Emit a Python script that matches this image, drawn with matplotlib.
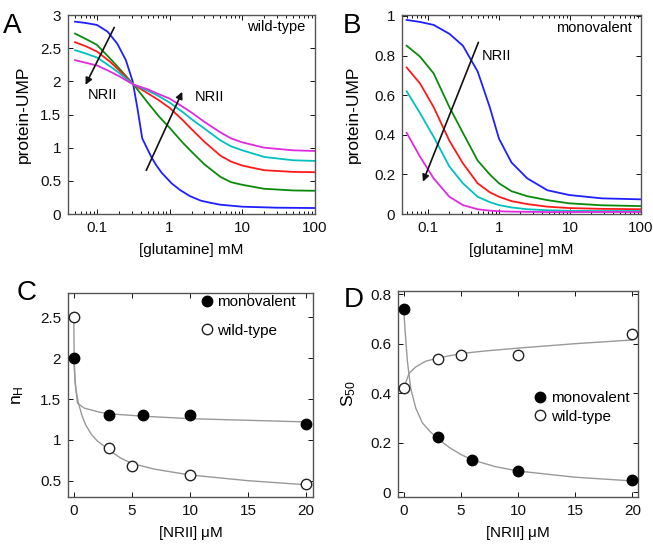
import matplotlib
matplotlib.use('Agg')

import matplotlib.pyplot as plt
import numpy as np

plt.rcParams['font.family'] = ['Liberation Sans', 'DejaVu Sans']
plt.rcParams['mathtext.fontset'] = 'custom'
plt.rcParams['mathtext.rm'] = 'Liberation Sans'
plt.rcParams['mathtext.it'] = 'Liberation Sans'

# ---- panel A: wild-type, protein-UMP vs glutamine ----
glu_a = [0.05, 0.07, 0.1, 0.15, 0.2, 0.32, 0.5, 0.7, 1, 1.5, 2, 3, 5, 7, 10, 20, 50, 100]
wt_green = [2.72, 2.64, 2.55, 2.35, 2.2, 1.95, 1.68, 1.48, 1.3, 1.08, 0.94, 0.75, 0.56, 0.48, 0.44, 0.38, 0.355, 0.35]
wt_red = [2.59, 2.53, 2.45, 2.3, 2.17, 1.95, 1.82, 1.72, 1.6, 1.42, 1.28, 1.09, 0.88, 0.79, 0.73, 0.66, 0.635, 0.63]
wt_cyan = [2.47, 2.42, 2.36, 2.23, 2.13, 1.95, 1.86, 1.78, 1.68, 1.54, 1.43, 1.29, 1.11, 1.02, 0.96, 0.86, 0.81, 0.80]
wt_magenta = [2.32, 2.28, 2.24, 2.15, 2.08, 1.95, 1.88, 1.81, 1.74, 1.62, 1.53, 1.39, 1.23, 1.14, 1.08, 1.0, 0.96, 0.95]
glu_a_blue = [0.05, 0.07, 0.1, 0.14, 0.19, 0.25, 0.31, 0.36, 0.42, 0.5, 0.56, 0.65, 0.78, 1.07,
              1.4, 1.9, 2.7, 3.6, 5, 10, 30, 100]
wt_blue = [2.9, 2.88, 2.85, 2.75, 2.57, 2.32, 2.0, 1.6, 1.14, 0.97, 0.86, 0.74, 0.62, 0.46,
           0.36, 0.27, 0.2, 0.17, 0.14, 0.11, 0.095, 0.09]

# ---- panel B: monovalent ----
glu_b = [0.05, 0.077, 0.12, 0.2, 0.31, 0.5, 0.74, 1.0, 1.5, 2.5, 4.8, 9.7, 28, 100]
mv_blue = [0.98, 0.97, 0.955, 0.91, 0.85, 0.72, 0.54, 0.38, 0.26, 0.18, 0.12, 0.096, 0.079, 0.074]
mv_green = [0.85, 0.795, 0.71, 0.54, 0.41, 0.27, 0.2, 0.155, 0.115, 0.09, 0.07, 0.054, 0.044, 0.04]
mv_red = [0.74, 0.66, 0.54, 0.37, 0.256, 0.155, 0.11, 0.087, 0.065, 0.05, 0.037, 0.03, 0.026, 0.024]
mv_cyan = [0.62, 0.51, 0.39, 0.24, 0.155, 0.087, 0.06, 0.045, 0.033, 0.024, 0.019, 0.016, 0.015, 0.015]
mv_magenta = [0.41, 0.29, 0.18, 0.087, 0.045, 0.024, 0.017, 0.014, 0.012, 0.011, 0.01, 0.01, 0.01, 0.01]

# ---- panels C/D: Hill coefficient and S50 vs NRII ----
nrii_mono = [0, 3, 6, 10, 20]
nrii_wt = [0, 3, 5, 10, 20]
nh_mono = [2.0, 1.3, 1.3, 1.3, 1.2]
nh_wt = [2.5, 0.9, 0.68, 0.57, 0.46]
s50_mono = [0.74, 0.222, 0.13, 0.085, 0.048]
s50_wt = [0.42, 0.54, 0.555, 0.555, 0.64]

# fitted curves
fit_x_nh_mono = [0, 0.11, 0.32, 0.89, 2.2, 3, 6, 10, 15, 20]
fit_nh_mono = [2.0, 1.7, 1.45, 1.39, 1.34, 1.32, 1.29, 1.26, 1.24, 1.22]
fit_x_nh_wt = [0, 0.03, 0.1, 0.2, 0.4, 0.7, 1.0, 1.5, 2, 3, 4, 5, 7, 10, 15, 20]
fit_nh_wt = [2.5, 2.0, 1.75, 1.6, 1.45, 1.3, 1.19, 1.07, 0.99, 0.88, 0.78, 0.71, 0.64, 0.57, 0.5, 0.45]
fit_x_s50_mono = [0, 0.11, 0.32, 0.61, 1.05, 1.63, 2.3, 3, 4, 5, 6, 8, 10, 15, 20]
fit_s50_mono = [0.74, 0.66, 0.53, 0.42, 0.34, 0.28, 0.245, 0.215, 0.18, 0.152, 0.13, 0.103, 0.085, 0.06, 0.045]
fit_x_s50_wt = [0, 0.47, 1.05, 1.92, 3, 5, 7, 10, 15, 20]
fit_s50_wt = [0.42, 0.48, 0.506, 0.529, 0.542, 0.56, 0.57, 0.582, 0.6, 0.615]

colors = ['#1f1fff', '#0a8a0a', '#ff1a1a', '#00c0c0', '#e02ae0']

W, H = 653, 548
fig = plt.figure(figsize=(W / 100, H / 100), dpi=100)

TICK_FS = 11
LAB_FS = 11
YLAB_FS = 12.5


def px_axes(l, t, r, b):
    return fig.add_axes([l / W, 1 - b / H, (r - l) / W, (b - t) / H])


def style(ax, ylab_x, xlab_y):
    ax.tick_params(direction='in', which='both', top=True, right=True,
                   labelsize=TICK_FS, colors='#111111', length=3.5, width=0.7, pad=5)
    ax.tick_params(which='minor', length=2)
    for s in ax.spines.values():
        s.set_color('#555555')
        s.set_linewidth(1.0)
    ax.yaxis.set_label_coords(ylab_x, 0.5)
    ax.xaxis.set_label_coords(0.5, xlab_y)


# Panel A
axA = px_axes(68, 15, 315, 214)
axA.plot(glu_a_blue, wt_blue, color=colors[0], lw=1.3)
for ys, c in zip([wt_green, wt_red, wt_cyan, wt_magenta], colors[1:]):
    axA.plot(glu_a, ys, color=c, lw=1.3)
axA.set_xscale('log')
axA.set_xlim(0.04, 100)
axA.set_ylim(0, 3)
axA.set_xticks([0.1, 1, 10, 100])
axA.set_xticklabels(['0.1', '1', '10', '100'])
axA.set_yticks([0, 0.5, 1, 1.5, 2, 2.5, 3])
axA.set_yticklabels(['0', '0.5', '1', '1.5', '2', '2.5', '3'])
axA.set_xlabel('[glutamine] mM', fontsize=LAB_FS)
axA.set_ylabel('protein-UMP', fontsize=YLAB_FS)
axA.annotate('', xy=(0.067, 1.91), xytext=(0.18, 2.85),
             arrowprops=dict(arrowstyle='-|>', color='#111111', lw=1.2, mutation_scale=10))
axA.annotate('', xy=(1.55, 1.88), xytext=(0.46, 0.62),
             arrowprops=dict(arrowstyle='-|>', color='#111111', lw=1.2, mutation_scale=10))
axA.text(0.075, 1.8, 'NRII', fontsize=10.5, va='center')
axA.text(2.2, 1.77, 'NRII', fontsize=10.5, va='center')
axA.text(0.96, 0.94, 'wild-type', transform=axA.transAxes, ha='right', va='center', fontsize=10.5)
style(axA, -0.15, -0.145)

# Panel B
axB = px_axes(402, 15, 641, 214)
for ys, c in zip([mv_blue, mv_green, mv_red, mv_cyan, mv_magenta], colors):
    axB.plot(glu_b, ys, color=c, lw=1.3)
axB.set_xscale('log')
axB.set_xlim(0.043, 100)
axB.set_ylim(0, 1.005)
axB.set_xticks([0.1, 1, 10, 100])
axB.set_xticklabels(['0.1', '1', '10', '100'])
axB.set_yticks([0, 0.2, 0.4, 0.6, 0.8, 1])
axB.set_yticklabels(['0', '0.2', '0.4', '0.6', '0.8', '1'])
axB.set_xlabel('[glutamine] mM', fontsize=LAB_FS)
axB.set_ylabel('protein-UMP', fontsize=YLAB_FS)
axB.annotate('', xy=(0.082, 0.15), xytext=(0.53, 0.88),
             arrowprops=dict(arrowstyle='-|>', color='#111111', lw=1.2, mutation_scale=10))
axB.text(0.58, 0.80, 'NRII', fontsize=10.5, va='center')
axB.text(0.96, 0.935, 'monovalent', transform=axB.transAxes, ha='right', va='center', fontsize=10.5)
style(axB, -0.17, -0.145)

# Panel C
axC = px_axes(68, 293, 313, 497)
axC.plot(fit_x_nh_mono, fit_nh_mono, color='#999999', lw=1.0, zorder=1)
axC.plot(fit_x_nh_wt, fit_nh_wt, color='#999999', lw=1.0, zorder=1)
axC.plot(nrii_mono, nh_mono, 'o', ms=7.5, mfc='black', mec='black', label='monovalent', zorder=3)
axC.plot(nrii_wt, nh_wt, 'o', ms=7.5, mfc='white', mec='#222222', mew=1.0, label='wild-type', zorder=3)
axC.set_xlim(-0.5, 20.6)
axC.set_ylim(0.3, 2.8)
axC.set_xticks([0, 5, 10, 15, 20])
axC.set_yticks([0.5, 1, 1.5, 2, 2.5])
axC.set_yticklabels(['0.5', '1', '1.5', '2', '2.5'])
axC.set_xlabel('[NRII] $\\mu$M', fontsize=LAB_FS)
axC.set_ylabel('n$_\\mathrm{H}$', fontsize=YLAB_FS)
axC.legend(loc='center left', bbox_to_anchor=(0.535, 0.885), frameon=False, fontsize=LAB_FS,
           handletextpad=0.2, borderaxespad=0.0, borderpad=0.0, labelspacing=0.95, handlelength=1.0)
style(axC, -0.17, -0.13)

# Panel D
axD = px_axes(398, 291, 638, 497)
axD.plot(fit_x_s50_mono, fit_s50_mono, color='#999999', lw=1.0, zorder=1)
axD.plot(fit_x_s50_wt, fit_s50_wt, color='#999999', lw=1.0, zorder=1)
axD.plot(nrii_mono, s50_mono, 'o', ms=7.5, mfc='black', mec='black', label='monovalent', zorder=3)
axD.plot(nrii_wt, s50_wt, 'o', ms=7.5, mfc='white', mec='#222222', mew=1.0, label='wild-type', zorder=3)
axD.set_xlim(-0.5, 20.5)
axD.set_ylim(-0.02, 0.813)
axD.set_xticks([0, 5, 10, 15, 20])
axD.set_yticks([0, 0.2, 0.4, 0.6, 0.8])
axD.set_yticklabels(['0', '0.2', '0.4', '0.6', '0.8'])
axD.set_xlabel('[NRII] $\\mu$M', fontsize=LAB_FS)
axD.set_ylabel('S$_{50}$', fontsize=YLAB_FS)
axD.legend(loc='center left', bbox_to_anchor=(0.56, 0.435), frameon=False, fontsize=LAB_FS,
           handletextpad=0.2, borderaxespad=0.0, borderpad=0.0, labelspacing=0.3, handlelength=1.0)
style(axD, -0.165, -0.13)

# panel letters
for letter, x, y in [('A', 3, 33), ('B', 343, 33), ('C', 17, 300), ('D', 344, 307)]:
    fig.text(x / W, 1 - y / H, letter, fontsize=20, va='baseline', ha='left')

fig.savefig('out.png', dpi=100)
